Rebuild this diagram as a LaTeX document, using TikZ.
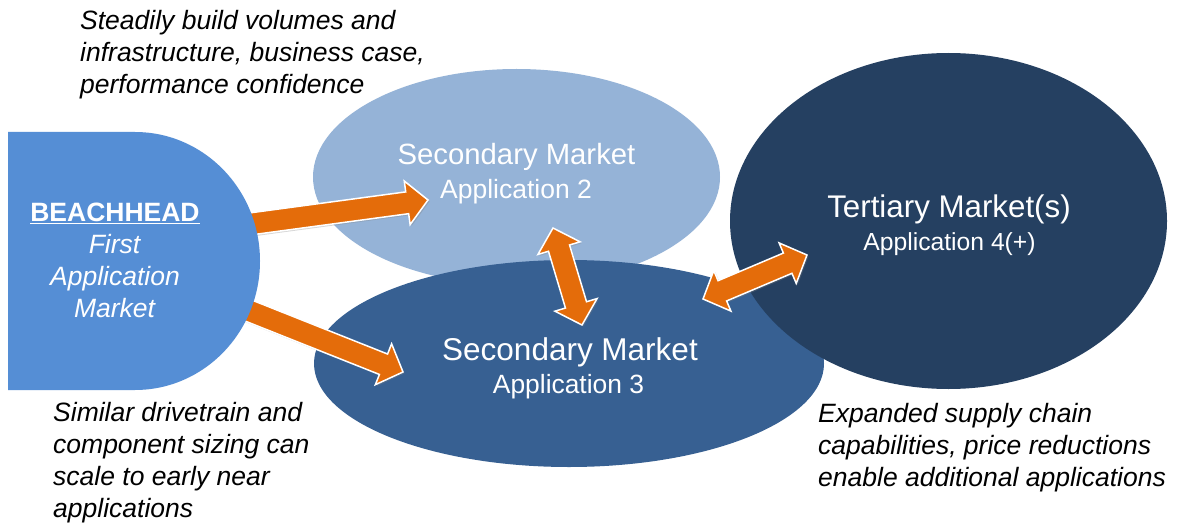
\documentclass[tikz,border=0pt]{standalone}
\usepackage{fontspec}
\setmainfont{Liberation Sans}
\usetikzlibrary{calc,shapes.geometric,shadows}
\definecolor{bhblue}{HTML}{558ED5}
\definecolor{smlight}{HTML}{95B3D7}
\definecolor{smmid}{HTML}{376092}
\definecolor{tdark}{HTML}{254061}
\definecolor{arrorange}{HTML}{E46C0A}
\tikzset{
  market/.style={ellipse, inner sep=0pt, outer sep=0pt},
  mtitle/.style={text=white, anchor=base, inner sep=0pt},
  note/.style={text=black, font=\itshape\fontsize{26.5}{32}\selectfont, align=left, anchor=base west, inner sep=0pt},
  fatarrow/.style={fill=arrorange, draw=white, line width=1.5pt, line join=miter,
    drop shadow={shadow xshift=1.5pt, shadow yshift=-1.5pt, opacity=0.3}},
}
% single-headed fat arrow from #1 to #2
\newcommand\fatsingle[2]{%
  \coordinate (hb) at ($(#2)!21pt!(#1)$);
  \path[fatarrow] ($(#1)!11pt!90:(#2)$) -- ($(hb)!11pt!90:(#2)$) -- ($(hb)!22pt!90:(#2)$)
    -- (#2) -- ($(hb)!22pt!-90:(#2)$) -- ($(hb)!11pt!-90:(#2)$) -- ($(#1)!11pt!-90:(#2)$) -- cycle;
}
% double-headed fat arrow between #1 and #2
\newcommand\fatdouble[2]{%
  \coordinate (hb1) at ($(#1)!21pt!(#2)$);
  \coordinate (hb2) at ($(#2)!21pt!(#1)$);
  \path[fatarrow] (#1) -- ($(hb1)!22pt!90:(#2)$) -- ($(hb1)!11pt!90:(#2)$) -- ($(hb2)!11pt!90:(#2)$)
    -- ($(hb2)!22pt!90:(#2)$) -- (#2) -- ($(hb2)!22pt!-90:(#2)$) -- ($(hb2)!11pt!-90:(#2)$)
    -- ($(hb1)!11pt!-90:(#2)$) -- ($(hb1)!22pt!-90:(#2)$) -- cycle;
}
\begin{document}
\begin{tikzpicture}[x=1pt,y=1pt]
\useasboundingbox (0,0) rectangle (1177,523);
\fill[white] (0,0) rectangle (1177,523);

% market ellipses
\node[market, fill=smlight, minimum width=407pt, minimum height=216pt] (sm2) at (516.5,346) {};
\node[market, fill=smmid, minimum width=510pt, minimum height=207pt] (sm3) at (569,159.5) {};
\node[market, fill=tdark, minimum width=437pt, minimum height=336pt] (ter) at (948.5,302) {};

% arrow end points
\coordinate (a1s) at (235,297);
\coordinate (a1e) at (428,323);
\coordinate (a2s) at (232,219);
\coordinate (a2e) at (403,151);
\coordinate (a3s) at (553,295);
\coordinate (a3e) at (582,198);
\coordinate (a4s) at (703,224);
\coordinate (a4e) at (807,268);

\fatsingle{a1s}{a1e}
\fatsingle{a2s}{a2e}
\fatdouble{a3s}{a3e}
\fatdouble{a4s}{a4e}

% beachhead shape
\fill[bhblue] (8,391) -- (135,391) arc[start angle=90, end angle=-90, x radius=125pt, y radius=129pt] -- (8,133) -- cycle;
\node[text=white, align=center, anchor=base, inner sep=0pt, font=\fontsize{26.5}{31.7}\selectfont] (bh) at (115,206)
  {\underline{\textbf{BEACHHEAD}}\\ \textit{First}\\ \textit{Application}\\ \textit{Market}};

% market labels
\node[mtitle, font=\fontsize{29.3}{32}\selectfont] (sm2t) at (516.5,359) {Secondary Market};
\node[mtitle, font=\fontsize{26.5}{30}\selectfont] (sm2s) at (516,325) {Application 2};
\node[mtitle, font=\fontsize{31.5}{34}\selectfont] (sm3t) at (570,163) {Secondary Market};
\node[mtitle, font=\fontsize{26.4}{30}\selectfont] (sm3s) at (568.5,130) {Application 3};
\node[mtitle, font=\fontsize{31.3}{34}\selectfont] (tert) at (949,306) {Tertiary Market(s)};
\node[mtitle, font=\fontsize{24.7}{28}\selectfont] (ters) at (949.5,273) {Application 4(+)};

% annotations
\node[note] (n1) at (80,429) {Steadily build volumes and\\infrastructure, business case,\\performance confidence};
\node[note] (n2) at (53,6) {Similar drivetrain and\\component sizing can\\scale to early near\\applications};
\node[note] (n3) at (818,37) {Expanded supply chain\\capabilities, price reductions\\enable additional applications};
\end{tikzpicture}
\end{document}
